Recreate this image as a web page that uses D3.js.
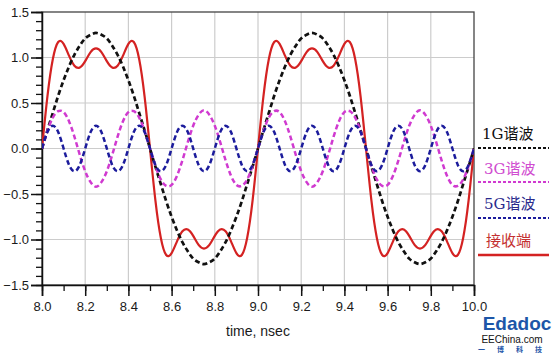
<!DOCTYPE html>
<html>
<head>
<meta charset="utf-8">
<script src="https://cdn.jsdelivr.net/npm/d3@7"></script>
<style>
  body { margin: 0; background: #fff; }
  svg { display: block; }
</style>
</head>
<body>
<div id="mainDiv"></div>
<script>
const times = [
  8.000, 8.025, 8.050, 8.075, 8.100, 8.125, 8.150, 8.175, 8.200, 8.225,
  8.250, 8.275, 8.300, 8.325, 8.350, 8.375, 8.400, 8.425, 8.450, 8.475,
  8.500, 8.525, 8.550, 8.575, 8.600, 8.625, 8.650, 8.675, 8.700, 8.725,
  8.750, 8.775, 8.800, 8.825, 8.850, 8.875, 8.900, 8.925, 8.950, 8.975,
  9.000, 9.025, 9.050, 9.075, 9.100, 9.125, 9.150, 9.175, 9.200, 9.225,
  9.250, 9.275, 9.300, 9.325, 9.350, 9.375, 9.400, 9.425, 9.450, 9.475,
  9.500, 9.525, 9.550, 9.575, 9.600, 9.625, 9.650, 9.675, 9.700, 9.725,
  9.750, 9.775, 9.800, 9.825, 9.850, 9.875, 9.900, 9.925, 9.950, 9.975,
  10.000,
];

const harmonic1G = [
  0, 0.20, 0.39, 0.58, 0.75, 0.90, 1.03, 1.13, 1.21, 1.25,
  1.27, 1.25, 1.21, 1.13, 1.03, 0.90, 0.75, 0.58, 0.39, 0.20,
  0, -0.20, -0.39, -0.58, -0.75, -0.90, -1.03, -1.13, -1.21, -1.25,
  -1.27, -1.25, -1.21, -1.13, -1.03, -0.90, -0.75, -0.58, -0.39, -0.20,
  0, 0.20, 0.39, 0.58, 0.75, 0.90, 1.03, 1.13, 1.21, 1.25,
  1.27, 1.25, 1.21, 1.13, 1.03, 0.90, 0.75, 0.58, 0.39, 0.20,
  0, -0.20, -0.39, -0.58, -0.75, -0.90, -1.03, -1.13, -1.21, -1.25,
  -1.27, -1.25, -1.21, -1.13, -1.03, -0.90, -0.75, -0.58, -0.39, -0.20,
  0,
];

const harmonic3G = [
  0, 0.19, 0.34, 0.41, 0.40, 0.30, 0.13, -0.07, -0.25, -0.37,
  -0.42, -0.37, -0.25, -0.07, 0.13, 0.30, 0.40, 0.41, 0.34, 0.19,
  0, -0.19, -0.34, -0.41, -0.40, -0.30, -0.13, 0.07, 0.25, 0.37,
  0.42, 0.37, 0.25, 0.07, -0.13, -0.30, -0.40, -0.41, -0.34, -0.19,
  0, 0.19, 0.34, 0.41, 0.40, 0.30, 0.13, -0.07, -0.25, -0.37,
  -0.42, -0.37, -0.25, -0.07, 0.13, 0.30, 0.40, 0.41, 0.34, 0.19,
  0, -0.19, -0.34, -0.41, -0.40, -0.30, -0.13, 0.07, 0.25, 0.37,
  0.42, 0.37, 0.25, 0.07, -0.13, -0.30, -0.40, -0.41, -0.34, -0.19,
  0,
];

const harmonic5G = [
  0, 0.18, 0.25, 0.18, 0, -0.18, -0.25, -0.18,
  0, 0.18, 0.25, 0.18, 0, -0.18, -0.25, -0.18,
  0, 0.18, 0.25, 0.18, 0, -0.18, -0.25, -0.18,
  0, 0.18, 0.25, 0.18, 0, -0.18, -0.25, -0.18,
  0, 0.18, 0.25, 0.18, 0, -0.18, -0.25, -0.18,
  0, 0.18, 0.25, 0.18, 0, -0.18, -0.25, -0.18,
  0, 0.18, 0.25, 0.18, 0, -0.18, -0.25, -0.18,
  0, 0.18, 0.25, 0.18, 0, -0.18, -0.25, -0.18,
  0, 0.18, 0.25, 0.18, 0, -0.18, -0.25, -0.18,
  0, 0.18, 0.25, 0.18, 0, -0.18, -0.25, -0.18,
  0,
];

const received = [
  0, 0.57, 0.98, 1.17, 1.15, 1.02, 0.91, 0.89, 0.96, 1.06,
  1.10, 1.06, 0.96, 0.89, 0.91, 1.02, 1.15, 1.17, 0.98, 0.57,
  0, -0.57, -0.98, -1.17, -1.15, -1.02, -0.91, -0.89, -0.96, -1.06,
  -1.10, -1.06, -0.96, -0.89, -0.91, -1.02, -1.15, -1.17, -0.98, -0.57,
  0, 0.57, 0.98, 1.17, 1.15, 1.02, 0.91, 0.89, 0.96, 1.06,
  1.10, 1.06, 0.96, 0.89, 0.91, 1.02, 1.15, 1.17, 0.98, 0.57,
  0, -0.57, -0.98, -1.17, -1.15, -1.02, -0.91, -0.89, -0.96, -1.06,
  -1.10, -1.06, -0.96, -0.89, -0.91, -1.02, -1.15, -1.17, -0.98, -0.57,
  0,
];

const xTickValues = [8.0, 8.2, 8.4, 8.6, 8.8, 9.0, 9.2, 9.4, 9.6, 9.8, 10.0];
const yTickValues = [-1.5, -1.0, -0.5, 0.0, 0.5, 1.0, 1.5];
const xTitle = "time, nsec";

const seriesList = [
  { name: "接收端", values: received },
  { name: "1G谐波", values: harmonic1G },
  { name: "3G谐波", values: harmonic3G },
  { name: "5G谐波", values: harmonic5G },
];

const seriesStyle = {
  "1G谐波": { color: "#111111", textColor: "#111111", dash: "5,3", width: 2.7 },
  "3G谐波": { color: "#d03ad0", textColor: "#d04cd0", dash: "5,3", width: 2.5 },
  "5G谐波": { color: "#1c1c9c", textColor: "#2a2a8c", dash: "5,3", width: 2.5 },
  "接收端": { color: "#d42222", textColor: "#c43030", dash: null, width: 2.2 },
};

const legendLayout = [
  { name: "1G谐波", textX: 482, textY: 139, lineY: 148 },
  { name: "3G谐波", textX: 484, textY: 174, lineY: 182 },
  { name: "5G谐波", textX: 484, textY: 209, lineY: 218 },
  { name: "接收端", textX: 486, textY: 246, lineY: 255 },
];

const chartSize = {
  margin: ({ top: 12, right: 80, bottom: 68, left: 42 }),
  height: 353,
  width: 554,
};

const svg = d3.select("#mainDiv")
  .append("svg")
  .attr("width", chartSize.width)
  .attr("height", chartSize.height);

const x = d3.scaleLinear()
  .domain([8, 10])
  .range([chartSize.margin.left, chartSize.width - chartSize.margin.right]);

const y = d3.scaleLinear()
  .domain([-1.5, 1.5])
  .range([chartSize.height - chartSize.margin.bottom, chartSize.margin.top]);

const plotLeft = x(8), plotRight = x(10), plotTop = y(1.5), plotBottom = y(-1.5);

// grid
svg.append("g")
  .selectAll("line.vgrid")
  .data(xTickValues.slice(1, -1))
  .join("line")
  .attr("x1", d => x(d)).attr("x2", d => x(d))
  .attr("y1", plotTop).attr("y2", plotBottom)
  .attr("stroke", "#cccccc").attr("stroke-width", 1.2);

svg.append("g")
  .selectAll("line.hgrid")
  .data(yTickValues.slice(1, -1))
  .join("line")
  .attr("x1", plotLeft).attr("x2", plotRight)
  .attr("y1", d => y(d)).attr("y2", d => y(d))
  .attr("stroke", "#cccccc").attr("stroke-width", 1.2);

// frame
svg.append("rect")
  .attr("x", plotLeft).attr("y", plotTop)
  .attr("width", plotRight - plotLeft).attr("height", plotBottom - plotTop)
  .attr("fill", "none").attr("stroke", "#444").attr("stroke-width", 1.3);

// axes: major + minor ticks
const tickFont = "'Liberation Sans', Arial, sans-serif";

const xAxis = g => g
  .attr("transform", `translate(0,${plotBottom})`)
  .call(d3.axisBottom(x).tickValues(xTickValues).tickSize(11).tickFormat(d3.format(".1f")))
  .call(g => g.select(".domain").attr("stroke", "#111").attr("stroke-width", 1.5))
  .call(g => g.selectAll(".tick line").attr("stroke", "#111").attr("stroke-width", 1.5))
  .call(g => g.selectAll("text").attr("font-size", 13).attr("font-family", tickFont)
    .attr("fill", "#1a1a1a").attr("dy", "0.75em").attr("y", 16));

const xMinorAxis = g => g
  .attr("transform", `translate(0,${plotBottom})`)
  .call(d3.axisBottom(x).ticks(20).tickSize(6).tickFormat(""))
  .call(g => g.select(".domain").remove())
  .call(g => g.selectAll(".tick line").attr("stroke", "#111").attr("stroke-width", 1.3));

const yAxis = g => g
  .attr("transform", `translate(${plotLeft},0)`)
  .call(d3.axisLeft(y).tickValues(yTickValues).tickSize(11).tickFormat(d3.format(".1f")))
  .call(g => g.select(".domain").attr("stroke", "#111").attr("stroke-width", 1.5))
  .call(g => g.selectAll(".tick line").attr("stroke", "#111").attr("stroke-width", 1.5))
  .call(g => g.selectAll("text").attr("font-size", 13).attr("font-family", tickFont)
    .attr("fill", "#1a1a1a").attr("x", -13));

const yMinorAxis = g => g
  .attr("transform", `translate(${plotLeft},0)`)
  .call(d3.axisLeft(y).ticks(30).tickSize(6).tickFormat(""))
  .call(g => g.select(".domain").remove())
  .call(g => g.selectAll(".tick line").attr("stroke", "#111").attr("stroke-width", 1.3));

svg.append("g").call(xMinorAxis);
svg.append("g").call(yMinorAxis);
svg.append("g").call(xAxis);
svg.append("g").call(yAxis);

svg.append("text")
  .attr("x", (plotLeft + plotRight) / 2)
  .attr("y", 336)
  .attr("text-anchor", "middle")
  .attr("font-family", tickFont)
  .attr("font-size", 14)
  .attr("fill", "#1a1a1a")
  .text(xTitle);

// curves
svg.append("clipPath").attr("id", "plotClip")
  .append("rect")
  .attr("x", plotLeft).attr("y", plotTop)
  .attr("width", plotRight - plotLeft).attr("height", plotBottom - plotTop);

const line = d3.line()
  .x((d, i) => x(times[i]))
  .y(d => y(d))
  .curve(d3.curveNatural);

svg.append("g")
  .attr("clip-path", "url(#plotClip)")
  .selectAll("path")
  .data(seriesList)
  .join("path")
  .attr("d", s => line(s.values))
  .attr("fill", "none")
  .attr("stroke", s => seriesStyle[s.name].color)
  .attr("stroke-width", s => seriesStyle[s.name].width)
  .attr("stroke-dasharray", s => seriesStyle[s.name].dash);

// legend
const legendFont = "'DejaVu Serif', 'Liberation Serif', 'Noto Sans CJK SC', serif";
const legend = svg.append("g");

legend.selectAll("text")
  .data(legendLayout)
  .join("text")
  .attr("x", d => d.textX)
  .attr("y", d => d.textY)
  .attr("font-family", legendFont)
  .attr("font-size", 15)
  .attr("fill", d => seriesStyle[d.name].textColor)
  .text(d => d.name);

legend.selectAll("line")
  .data(legendLayout)
  .join("line")
  .attr("x1", 478).attr("x2", 549)
  .attr("y1", d => d.lineY).attr("y2", d => d.lineY)
  .attr("stroke", d => seriesStyle[d.name].color)
  .attr("stroke-width", d => d.name === "接收端" ? 2.6 : 2)
  .attr("stroke-dasharray", d => seriesStyle[d.name].dash ? "3,2" : null);

// watermark
const mark = svg.append("g");
mark.append("text")
  .attr("x", 517).attr("y", 330)
  .attr("text-anchor", "middle")
  .attr("font-family", "'Liberation Sans', Arial, sans-serif")
  .attr("font-weight", "bold")
  .attr("font-size", 19)
  .attr("fill", "#1d56a8")
  .text("Edadoc");
mark.append("text")
  .attr("x", 512).attr("y", 343)
  .attr("text-anchor", "middle")
  .attr("font-family", "'Liberation Sans', Arial, sans-serif")
  .attr("font-size", 10)
  .attr("fill", "#111")
  .text("EEChina.com");
mark.append("text")
  .attr("x", 516).attr("y", 352)
  .attr("text-anchor", "middle")
  .attr("font-family", "'Noto Sans CJK SC', sans-serif")
  .attr("font-weight", "bold")
  .attr("font-size", 7)
  .attr("letter-spacing", 12)
  .attr("fill", "#1d56a8")
  .text("一博科技");
</script>
</body>
</html>
